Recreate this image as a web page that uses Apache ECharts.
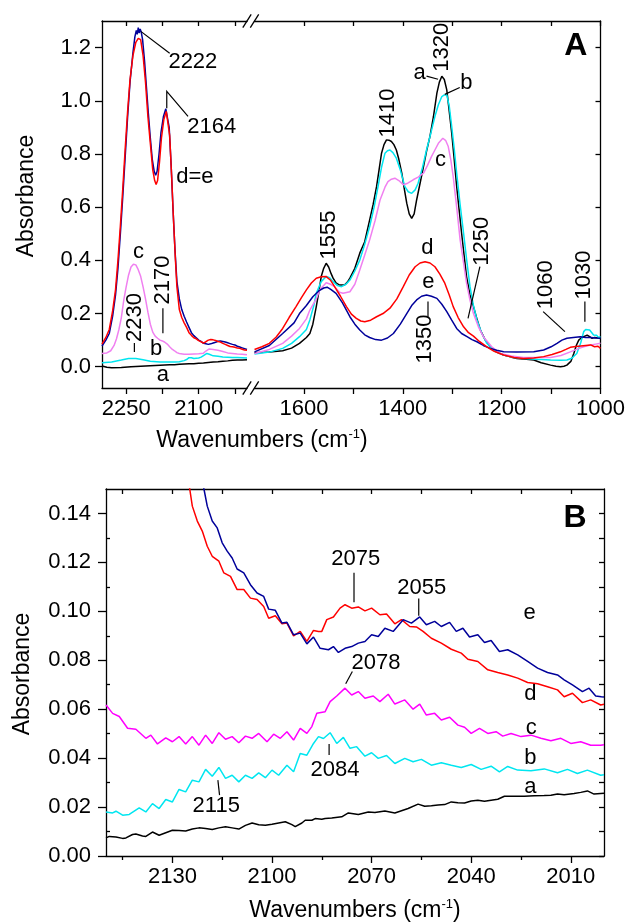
<!DOCTYPE html>
<html><head><meta charset="utf-8">
<script src="https://cdn.jsdelivr.net/npm/echarts@6/dist/echarts.min.js"></script>
<style>html,body{margin:0;padding:0;background:#fff}#c{width:629px;height:922px}</style>
</head><body><div id="c"></div>
<script>
// ---------- Panel A, high-wavenumber segment (2300-2000 cm-1) ----------
const aL = [[2300,0.003],[2290,-0.002],[2280,-0.004],[2260,-0.003],[2240,0.0],[2220,0.002],[2200,0.004],[2180,0.006],[2160,0.007],[2150,0.0075],[2140,0.009],[2130,0.0105],[2120,0.011],[2110,0.011],[2100,0.013],[2090,0.014],[2080,0.016],[2070,0.018],[2060,0.019],[2050,0.021],[2040,0.022],[2030,0.024],[2020,0.025],[2010,0.025],[2000,0.026]];
const bL = [[2300,0.015],[2280,0.018],[2260,0.025],[2245,0.031],[2230,0.031],[2215,0.026],[2200,0.021],[2180,0.018],[2160,0.018],[2150,0.018],[2140,0.019],[2130,0.023],[2125,0.027],[2120,0.034],[2115,0.034],[2110,0.031],[2100,0.033],[2095,0.036],[2090,0.042],[2087,0.047],[2083,0.05],[2078,0.047],[2074,0.044],[2070,0.041],[2060,0.039],[2050,0.037],[2040,0.036],[2030,0.035],[2020,0.035],[2010,0.034],[2000,0.033]];
const cL = [[2300,0.05],[2290,0.052],[2282,0.06],[2275,0.08],[2270,0.105],[2265,0.14],[2260,0.185],[2255,0.25],[2250,0.30],[2245,0.345],[2240,0.375],[2235,0.385],[2230,0.383],[2225,0.365],[2220,0.34],[2215,0.30],[2210,0.255],[2205,0.205],[2200,0.16],[2195,0.13],[2190,0.115],[2185,0.107],[2180,0.10],[2175,0.097],[2170,0.092],[2165,0.085],[2160,0.075],[2155,0.066],[2150,0.06],[2145,0.053],[2140,0.05],[2130,0.047],[2120,0.047],[2110,0.048],[2100,0.049],[2090,0.051],[2085,0.059],[2078,0.067],[2070,0.065],[2060,0.062],[2050,0.057],[2040,0.052],[2030,0.05],[2020,0.048],[2010,0.047],[2000,0.045]];
const dL = [[2300,0.085],[2292,0.11],[2285,0.14],[2278,0.21],[2272,0.29],[2267,0.40],[2262,0.53],[2257,0.67],[2252,0.82],[2247,0.96],[2242,1.08],[2236,1.17],[2230,1.22],[2225,1.235],[2220,1.23],[2215,1.17],[2210,1.07],[2205,0.94],[2200,0.84],[2195,0.74],[2191,0.70],[2188,0.685],[2185,0.70],[2181,0.77],[2177,0.86],[2172,0.93],[2167,0.96],[2164,0.955],[2160,0.87],[2156,0.72],[2152,0.55],[2148,0.40],[2145,0.30],[2140,0.215],[2135,0.185],[2130,0.165],[2125,0.148],[2120,0.128],[2115,0.118],[2110,0.109],[2105,0.105],[2100,0.098],[2095,0.094],[2090,0.089],[2085,0.094],[2080,0.1],[2075,0.102],[2070,0.101],[2065,0.099],[2060,0.095],[2055,0.093],[2050,0.088],[2045,0.084],[2040,0.08],[2035,0.076],[2030,0.075],[2025,0.073],[2020,0.07],[2015,0.069],[2010,0.066],[2005,0.063],[2000,0.062]];
const eL = [[2300,0.078],[2292,0.10],[2285,0.125],[2278,0.19],[2272,0.27],[2267,0.37],[2262,0.50],[2257,0.64],[2252,0.79],[2247,0.94],[2242,1.07],[2236,1.18],[2232,1.24],[2229,1.265],[2227,1.25],[2225,1.275],[2223,1.255],[2221,1.27],[2219,1.26],[2216,1.23],[2212,1.15],[2208,1.05],[2204,0.95],[2200,0.86],[2196,0.78],[2192,0.735],[2189,0.72],[2186,0.735],[2182,0.80],[2178,0.88],[2173,0.94],[2168,0.97],[2165,0.965],[2161,0.90],[2157,0.76],[2153,0.59],[2149,0.44],[2145,0.32],[2140,0.255],[2135,0.215],[2130,0.19],[2125,0.168],[2120,0.148],[2115,0.128],[2110,0.117],[2105,0.109],[2100,0.10],[2095,0.095],[2090,0.088],[2085,0.086],[2080,0.084],[2075,0.086],[2070,0.089],[2065,0.092],[2060,0.096],[2055,0.097],[2050,0.095],[2045,0.093],[2040,0.09],[2035,0.087],[2030,0.084],[2025,0.082],[2020,0.077],[2015,0.074],[2010,0.071],[2005,0.068],[2000,0.065]];

// ---------- Panel A, low-wavenumber segment (1700-1000 cm-1) ----------
const aR = [[1700,0.053],[1670,0.055],[1643,0.06],[1625,0.07],[1609,0.088],[1595,0.11],[1588,0.125],[1582,0.16],[1575,0.226],[1570,0.28],[1565,0.339],[1560,0.37],[1555,0.389],[1550,0.375],[1545,0.35],[1541,0.333],[1535,0.315],[1528,0.307],[1518,0.307],[1512,0.318],[1507,0.333],[1497,0.37],[1487,0.427],[1477,0.47],[1467,0.552],[1460,0.61],[1453,0.678],[1448,0.74],[1443,0.803],[1438,0.835],[1433,0.853],[1428,0.852],[1423,0.847],[1418,0.835],[1413,0.815],[1408,0.78],[1402,0.728],[1397,0.67],[1392,0.615],[1387,0.575],[1382,0.558],[1377,0.575],[1372,0.627],[1365,0.69],[1358,0.753],[1352,0.81],[1345,0.866],[1338,0.94],[1331,1.029],[1326,1.07],[1321,1.092],[1316,1.08],[1311,1.041],[1306,0.96],[1301,0.878],[1296,0.78],[1291,0.678],[1286,0.59],[1281,0.502],[1276,0.42],[1271,0.339],[1264,0.27],[1257,0.226],[1250,0.18],[1243,0.138],[1233,0.1],[1223,0.075],[1210,0.055],[1196,0.044],[1180,0.036],[1169,0.031],[1150,0.028],[1135,0.025],[1120,0.015],[1101,0.006],[1090,0.002],[1081,0.0],[1074,0.002],[1068,0.006],[1060,0.02],[1054,0.05],[1049,0.08],[1044,0.1],[1039,0.108],[1034,0.113],[1030,0.117],[1027,0.119],[1022,0.113],[1017,0.107],[1012,0.11],[1008,0.103],[1004,0.108],[1000,0.106]];
const bR = [[1700,0.048],[1670,0.055],[1643,0.069],[1625,0.088],[1609,0.113],[1595,0.14],[1588,0.176],[1580,0.23],[1575,0.276],[1565,0.32],[1555,0.339],[1548,0.335],[1541,0.32],[1532,0.305],[1524,0.301],[1515,0.31],[1507,0.326],[1497,0.36],[1487,0.401],[1477,0.46],[1467,0.527],[1458,0.6],[1450,0.678],[1443,0.75],[1436,0.803],[1431,0.812],[1426,0.815],[1420,0.805],[1413,0.784],[1405,0.74],[1396,0.678],[1389,0.658],[1382,0.652],[1375,0.665],[1369,0.69],[1360,0.75],[1352,0.815],[1343,0.88],[1335,0.941],[1328,0.985],[1321,1.016],[1316,1.022],[1311,1.022],[1306,0.98],[1301,0.903],[1296,0.82],[1291,0.728],[1284,0.61],[1277,0.502],[1270,0.39],[1264,0.301],[1257,0.23],[1250,0.176],[1240,0.125],[1230,0.088],[1215,0.06],[1196,0.044],[1175,0.035],[1156,0.031],[1130,0.028],[1101,0.025],[1080,0.024],[1068,0.025],[1058,0.032],[1048,0.05],[1040,0.09],[1034,0.132],[1030,0.14],[1027,0.144],[1022,0.138],[1014,0.119],[1008,0.118],[1004,0.11],[1000,0.113]];
const cR = [[1700,0.05],[1670,0.065],[1643,0.088],[1625,0.115],[1609,0.144],[1595,0.18],[1588,0.213],[1575,0.255],[1568,0.289],[1555,0.316],[1546,0.31],[1538,0.301],[1528,0.28],[1521,0.276],[1507,0.282],[1497,0.31],[1487,0.364],[1477,0.42],[1467,0.477],[1456,0.55],[1446,0.627],[1436,0.675],[1430,0.696],[1423,0.705],[1416,0.709],[1408,0.7],[1399,0.684],[1390,0.69],[1379,0.703],[1369,0.713],[1358,0.728],[1350,0.757],[1342,0.79],[1335,0.815],[1328,0.84],[1319,0.859],[1313,0.85],[1308,0.828],[1303,0.78],[1298,0.715],[1291,0.6],[1284,0.477],[1277,0.39],[1271,0.314],[1264,0.25],[1257,0.2],[1247,0.15],[1237,0.113],[1220,0.075],[1203,0.05],[1180,0.04],[1156,0.035],[1130,0.035],[1101,0.035],[1080,0.042],[1061,0.056],[1045,0.068],[1034,0.075],[1020,0.082],[1010,0.085],[1000,0.088]];
const dR = [[1700,0.065],[1685,0.075],[1670,0.088],[1656,0.112],[1643,0.144],[1630,0.185],[1616,0.226],[1605,0.26],[1595,0.289],[1585,0.315],[1575,0.333],[1565,0.338],[1555,0.339],[1546,0.325],[1538,0.301],[1526,0.265],[1514,0.226],[1504,0.198],[1494,0.182],[1485,0.172],[1477,0.169],[1465,0.175],[1453,0.188],[1440,0.2],[1426,0.22],[1412,0.255],[1399,0.301],[1387,0.345],[1375,0.376],[1365,0.39],[1355,0.395],[1345,0.39],[1335,0.376],[1325,0.348],[1315,0.314],[1306,0.27],[1298,0.226],[1288,0.185],[1277,0.15],[1267,0.128],[1257,0.115],[1245,0.095],[1230,0.075],[1215,0.058],[1196,0.044],[1175,0.035],[1156,0.031],[1135,0.033],[1115,0.038],[1098,0.046],[1081,0.056],[1070,0.065],[1061,0.073],[1050,0.076],[1040,0.078],[1030,0.08],[1020,0.082],[1012,0.075],[1005,0.077],[1000,0.069]];
const eR = [[1700,0.056],[1670,0.08],[1643,0.125],[1620,0.165],[1609,0.2],[1595,0.23],[1582,0.263],[1570,0.285],[1560,0.296],[1553,0.299],[1545,0.29],[1535,0.276],[1522,0.24],[1507,0.188],[1497,0.16],[1487,0.138],[1477,0.12],[1467,0.11],[1455,0.102],[1443,0.1],[1431,0.108],[1419,0.125],[1405,0.16],[1392,0.2],[1382,0.23],[1372,0.251],[1362,0.265],[1352,0.27],[1342,0.265],[1331,0.257],[1321,0.235],[1311,0.207],[1301,0.175],[1291,0.144],[1281,0.125],[1270,0.113],[1260,0.102],[1250,0.094],[1237,0.08],[1223,0.069],[1210,0.062],[1196,0.056],[1170,0.055],[1135,0.056],[1115,0.063],[1100,0.075],[1088,0.088],[1078,0.1],[1068,0.107],[1055,0.11],[1041,0.113],[1030,0.11],[1020,0.11],[1010,0.108],[1000,0.107]];

// ---------- Panel B (2150-2000 cm-1, expanded) ----------
const aB = [[2150,0.0074],[2149,0.008],[2147,0.0078],[2145,0.0072],[2144,0.0074],[2142,0.0088],[2141,0.009],[2139,0.0082],[2138,0.008],[2136,0.0098],[2134,0.0085],[2132,0.0095],[2130,0.0105],[2128,0.0104],[2126,0.0102],[2124,0.011],[2122,0.0115],[2120,0.0112],[2118,0.0108],[2116,0.0115],[2114,0.012],[2112,0.0115],[2110,0.011],[2108,0.0125],[2106,0.0135],[2104,0.0128],[2102,0.0126],[2100,0.013],[2098,0.0135],[2096,0.014],[2094,0.0128],[2093,0.012],[2091,0.0135],[2090,0.0146],[2088,0.0146],[2087,0.0153],[2085,0.015],[2084,0.0153],[2082,0.0155],[2079,0.016],[2077,0.0176],[2074,0.017],[2071,0.018],[2069,0.0178],[2066,0.0184],[2063,0.0176],[2061,0.0185],[2059,0.0194],[2056,0.0212],[2054,0.0203],[2052,0.0205],[2050,0.0208],[2048,0.021],[2046,0.0221],[2044,0.0218],[2042,0.0217],[2040,0.0225],[2038,0.0228],[2036,0.0224],[2034,0.0228],[2032,0.0232],[2030,0.0244],[2027,0.0244],[2024,0.0244],[2021,0.0246],[2018,0.0247],[2016,0.0248],[2014,0.0253],[2012,0.025],[2009,0.0255],[2007,0.026],[2005,0.0266],[2003,0.0253],[2001,0.0255],[2000,0.0256]];
const bB = [[2150,0.018],[2148,0.0176],[2147,0.0183],[2145,0.0167],[2143,0.017],[2140,0.0197],[2138,0.018],[2136,0.0214],[2134,0.0194],[2132,0.0231],[2130,0.0221],[2128,0.0272],[2126,0.0262],[2124,0.031],[2122,0.0303],[2120,0.0354],[2118,0.0326],[2116,0.0362],[2114,0.0317],[2112,0.033],[2110,0.0303],[2108,0.033],[2106,0.0317],[2104,0.034],[2102,0.032],[2100,0.0351],[2098,0.033],[2095.5,0.0371],[2093.5,0.0344],[2091.5,0.0419],[2089.5,0.0412],[2087.5,0.046],[2086,0.0488],[2084.5,0.048],[2082.5,0.0504],[2080.5,0.046],[2078.5,0.0485],[2076.5,0.044],[2074.5,0.0447],[2072,0.0408],[2070,0.0422],[2068,0.0399],[2065.5,0.0411],[2063,0.0378],[2060,0.0399],[2057.5,0.0385],[2055,0.0395],[2052,0.0371],[2049,0.0381],[2046,0.0371],[2043,0.0362],[2040,0.0374],[2037,0.0354],[2034,0.0367],[2031.5,0.0344],[2029,0.0366],[2026,0.0351],[2022,0.0348],[2018,0.0356],[2014,0.034],[2011,0.0354],[2008,0.0337],[2005,0.0351],[2001,0.033],[2000,0.0332]];
const cB = [[2150,0.0617],[2148,0.0583],[2146,0.057],[2143.5,0.0522],[2141,0.0518],[2138,0.0481],[2136.5,0.0494],[2134.5,0.0458],[2132,0.0483],[2130,0.0467],[2128,0.0488],[2126,0.0458],[2124,0.0488],[2122,0.0453],[2120,0.0494],[2118,0.046],[2116,0.0504],[2114,0.0477],[2112,0.0488],[2110,0.0463],[2108,0.049],[2106,0.0481],[2104,0.0501],[2101.5,0.0467],[2099.5,0.0498],[2097.5,0.0481],[2095.5,0.0508],[2093.5,0.0474],[2091.5,0.0522],[2089.5,0.0501],[2088,0.0529],[2086.5,0.0583],[2084,0.059],[2082.5,0.0631],[2080.5,0.0654],[2078,0.0686],[2076,0.0658],[2074,0.0672],[2072,0.0645],[2069.5,0.0654],[2067.5,0.0631],[2065,0.0661],[2063,0.0621],[2060,0.0638],[2057.5,0.06],[2055.5,0.0621],[2053.5,0.0576],[2051,0.0583],[2049,0.0556],[2046.5,0.0567],[2044,0.0535],[2042,0.0526],[2040,0.0501],[2037.5,0.0522],[2035,0.0501],[2032.5,0.0508],[2030.5,0.049],[2028,0.0501],[2025,0.0488],[2022,0.0494],[2019,0.0481],[2016,0.0471],[2013,0.0481],[2010,0.046],[2007,0.0467],[2004,0.0453],[2001,0.0453],[2000,0.0455]];
const dB = [[2132,0.2],[2128,0.17],[2125,0.152],[2124,0.143],[2122.5,0.1369],[2121,0.1328],[2119.5,0.1266],[2118,0.1225],[2116,0.1205],[2114.5,0.1157],[2112.5,0.1143],[2110.5,0.1089],[2108.5,0.1089],[2106.5,0.1054],[2104.5,0.1048],[2102.5,0.102],[2101,0.0972],[2099,0.0982],[2097,0.0949],[2095.5,0.0952],[2093.5,0.09],[2091.5,0.0918],[2089.5,0.0877],[2087.5,0.0922],[2086,0.0918],[2085,0.0918],[2083.5,0.0966],[2081.5,0.0977],[2079.5,0.1013],[2078,0.1027],[2076,0.1013],[2074,0.1018],[2072,0.1002],[2070,0.1013],[2067.5,0.0986],[2065.5,0.0989],[2063,0.0949],[2061,0.0966],[2058.5,0.0938],[2056.5,0.0936],[2054.5,0.0918],[2052,0.089],[2049,0.087],[2046,0.0845],[2043,0.0829],[2041,0.0804],[2038,0.0795],[2035,0.0761],[2032,0.075],[2029,0.074],[2026,0.0727],[2023,0.0709],[2020,0.0704],[2017,0.0692],[2014,0.0679],[2012,0.0651],[2009.5,0.0665],[2006.5,0.0627],[2004,0.0638],[2001,0.0617],[2000,0.062]];
const eB = [[2128,0.2],[2123,0.17],[2120.5,0.15],[2119.5,0.143],[2118,0.1369],[2116.5,0.1341],[2115,0.128],[2113.5,0.1246],[2112,0.1218],[2110.5,0.1173],[2108.5,0.1157],[2106.5,0.1109],[2104.5,0.1075],[2102.5,0.1061],[2101,0.1009],[2099,0.1004],[2097,0.0952],[2095.5,0.0955],[2093.5,0.0904],[2091.5,0.0911],[2089.5,0.0867],[2087.5,0.0895],[2085.5,0.0849],[2083,0.0843],[2081.5,0.0856],[2080,0.0832],[2078,0.0849],[2076,0.0856],[2074,0.087],[2072,0.0877],[2070,0.0904],[2068,0.0897],[2066,0.0931],[2063.5,0.0918],[2060.5,0.0966],[2058,0.0952],[2055.5,0.0977],[2053.5,0.0945],[2051,0.0959],[2049,0.0938],[2046.5,0.0955],[2044.5,0.0918],[2042.5,0.0931],[2040.5,0.0895],[2038,0.0904],[2036,0.0873],[2034,0.0881],[2031.5,0.0836],[2029,0.0843],[2026,0.0822],[2023,0.0795],[2020,0.0768],[2017,0.075],[2014,0.074],[2012,0.072],[2009.5,0.0699],[2006.5,0.0672],[2004.5,0.0686],[2002.5,0.0654],[2000.8,0.0651],[2000,0.065]];

// ---------- tick values ----------
const tickA_L = [2250,2175,2100,2025];
const labA_L = [2250,2100];
const tickA_R = [1000,1100,1200,1300,1400,1500,1600];
const labA_R = [1000,1200,1400,1600];
const yTickA = [0,0.2,0.4,0.6,0.8,1.0,1.2];
const labB = [2010,2040,2070,2100,2130];
const minorB = [2025,2055,2085,2115,2145];
const topB = [2010,2025,2040,2055,2070,2085,2100,2115,2130,2145];
const yTickB = [0,0.02,0.04,0.06,0.08,0.10,0.12,0.14];
const yMinorB = [0.01,0.03,0.05,0.07,0.09,0.11,0.13];
const yAllB = [0,0.01,0.02,0.03,0.04,0.05,0.06,0.07,0.08,0.09,0.10,0.11,0.12,0.13,0.14];

// ---------- annotations (data coordinates) ----------
const annA_L = [
  {t:'2222', x:2112, y:1.146}, {t:'2164', x:2073, y:0.902}, {t:'d=e', x:2108, y:0.714},
  {t:'c', x:2224.5, y:0.431}, {t:'2230', x:2231, y:0.185, r:1}, {t:'2170', x:2174, y:0.326, r:1},
  {t:'b', x:2188, y:0.067}, {t:'a', x:2174, y:-0.031}
];
const leadA_L = [
  [[2219,1.26],[2160,1.179]],
  [[2166,0.972],[2166,1.035],[2122,0.941]],
  [[2233,0.089],[2233,0.055]],
  [[2174,0.22],[2174,0.126]]
];
const annA_R = [
  {t:'a', x:1366, y:1.105}, {t:'1320', x:1320, y:1.201, r:1}, {t:'b', x:1271.5, y:1.067},
  {t:'1410', x:1430, y:0.954, r:1}, {t:'c', x:1323.6, y:0.777}, {t:'1555', x:1549, y:0.4955, r:1},
  {t:'d', x:1350.5, y:0.448}, {t:'e', x:1348, y:0.317}, {t:'1350', x:1355.6, y:0.104, r:1},
  {t:'1250', x:1240, y:0.472, r:1}, {t:'1060', x:1111, y:0.3085, r:1}, {t:'1030', x:1033, y:0.345, r:1},
  {t:'A', x:1050, y:1.205, bold:1}
];
const leadA_R = [
  [[1352,1.093],[1328.6,1.081]],
  [[1315,1.024],[1284.7,1.05]],
  [[1349,0.245],[1349,0.188]],
  [[1244,0.376],[1268,0.182]],
  [[1116,0.207],[1072,0.132]],
  [[1031.6,0.245],[1031.6,0.169]]
];
const annB = [
  {t:'B', x:2008.7, y:0.138, bold:1}, {t:'2075', x:2074.8, y:0.1216}, {t:'2055', x:2054.9, y:0.1094},
  {t:'e', x:2022.4, y:0.0994}, {t:'2078', x:2068.7, y:0.079}, {t:'d', x:2022.2, y:0.0663},
  {t:'c', x:2021.9, y:0.0523}, {t:'b', x:2022.2, y:0.040}, {t:'2084', x:2081, y:0.0351},
  {t:'a', x:2022.2, y:0.0282}, {t:'2115', x:2116.8, y:0.0205}
];
const leadB = [
  [[2075.3,0.1158],[2075.3,0.1037]],
  [[2055.8,0.1052],[2055.8,0.0982]],
  [[2075.8,0.0754],[2077.8,0.0704]],
  [[2082.8,0.0458],[2082.8,0.0413]],
  [[2116.3,0.031],[2115.8,0.0249]]
];

const FONT = '"Liberation Sans", Arial, Helvetica, sans-serif';
const COL = {a:'#000000', b:'#00e6f0', cA:'#f080f0', cB:'#ff00ff', d:'#ff0000', e:'#00009a'};
const AX = {color:'#000', width:1.3};

function xAxisDef(grid, min, max, pos, ticks, labels, tickLen, inside, showLine) {
  return {
    gridIndex: grid, type:'value', min:min, max:max, inverse:true, position:pos,
    axisLine:{show: showLine !== false, onZero:false, lineStyle:AX},
    axisTick:{show:true, inside:!!inside, length:tickLen, customValues:ticks, lineStyle:AX},
    axisLabel: labels ? {show:true, customValues:labels, fontSize:22, color:'#000', margin:10, fontFamily:FONT,
      formatter: v => String(Math.round(v))} : {show:false},
    splitLine:{show:false}
  };
}
function yAxisDef(grid, min, max, pos, ticks, labels, tickLen, inside, showLine, dec, margin) {
  return {
    gridIndex: grid, type:'value', min:min, max:max, position:pos,
    axisLine:{show: showLine !== false, onZero:false, lineStyle:AX},
    axisTick:{show:true, inside:!!inside, length:tickLen, customValues:ticks, lineStyle:AX},
    axisLabel: labels ? {show:true, customValues:labels, fontSize:22, color:'#000', margin:margin, fontFamily:FONT,
      formatter: v => Number(v).toFixed(dec)} : {show:false},
    splitLine:{show:false}
  };
}
function line(data, color, xi, yi, w) {
  return {type:'line', data:data, xAxisIndex:xi, yAxisIndex:yi, showSymbol:false, symbol:'none',
    clip:true, smooth:false, lineStyle:{color:color, width:w||1.5}, itemStyle:{color:color}, silent:true, z:3};
}

const chart = echarts.init(document.getElementById('c'), null, {renderer:'canvas'});
chart.setOption({
  animation:false,
  backgroundColor:'#fff',
  grid:[
    {left:102, top:21, width:145, height:367},
    {left:254.5, top:21, width:346, height:367},
    {left:106, top:489, width:498, height:367}
  ],
  xAxis:[
    xAxisDef(0, 2000, 2300, 'bottom', tickA_L, labA_L, 6, false),
    xAxisDef(0, 2000, 2300, 'top', tickA_L, null, 5, true),
    xAxisDef(1, 1000, 1700, 'bottom', tickA_R, labA_R, 6, false),
    xAxisDef(1, 1000, 1700, 'top', tickA_R, null, 5, true),
    xAxisDef(2, 2000, 2150, 'bottom', labB, labB, 7, false),
    xAxisDef(2, 2000, 2150, 'bottom', minorB, null, 4, false, false),
    xAxisDef(2, 2000, 2150, 'top', topB, null, 5, true)
  ],
  yAxis:[
    yAxisDef(0, -0.08, 1.3, 'left', yTickA, yTickA, 7, false, true, 1, 11),
    yAxisDef(1, -0.08, 1.3, 'right', yTickA, null, 5, true),
    yAxisDef(2, 0, 0.15, 'left', yTickB, yTickB, 8, false, true, 2, 15),
    yAxisDef(2, 0, 0.15, 'left', yMinorB, null, 4, true, false),
    yAxisDef(2, 0, 0.15, 'right', yAllB, null, 5, true)
  ],
  series:[
    line(aL, COL.a, 0, 0), line(bL, COL.b, 0, 0), line(cL, COL.cA, 0, 0), line(eL, COL.e, 0, 0), line(dL, COL.d, 0, 0),
    line(aR, COL.a, 2, 1), line(bR, COL.b, 2, 1), line(cR, COL.cA, 2, 1), line(eR, COL.e, 2, 1), line(dR, COL.d, 2, 1),
    line(aB, COL.a, 4, 2), line(bB, COL.b, 4, 2), line(cB, COL.cB, 4, 2), line(dB, COL.d, 4, 2), line(eB, COL.e, 4, 2)
  ]
});

// ----- overlay graphics: annotations, leaders, axis break marks, titles -----
const AXES = [{xAxisIndex:0, yAxisIndex:0}, {xAxisIndex:2, yAxisIndex:1}, {xAxisIndex:4, yAxisIndex:2}];
const P = (g, pt) => chart.convertToPixel(AXES[g], pt);
const gfx = [];
function addAnn(g, list) {
  list.forEach(a => {
    const p = P(g, [a.x, a.y]);
    gfx.push({type:'text', x:p[0], y:p[1], rotation: a.r ? Math.PI/2 : 0, z:10,
      style:{text:a.t, x:0, y:0, align:'center', verticalAlign:'middle',
        font: (a.bold ? 'bold 32px ' : '22px ') + FONT, fill:'#000'}});
  });
}
function addLead(g, list) {
  list.forEach(pts => {
    gfx.push({type:'polyline', z:10, shape:{points: pts.map(q => P(g, q))},
      style:{stroke:'#000', lineWidth:1.2, fill:null}});
  });
}
addAnn(0, annA_L); addLead(0, leadA_L);
addAnn(1, annA_R); addLead(1, leadA_R);
addAnn(2, annB); addLead(2, leadB);

// axis-break slashes
const xr = P(0, [2000, 0])[0], xl = P(1, [1700, 0])[0];
const yt = P(0, [2000, 1.3])[1], yb = P(0, [2000, -0.08])[1];
[xr, xl].forEach(cx => {
  [yt, yb].forEach(cy => {
    gfx.push({type:'line', z:10, shape:{x1:cx-4.2, y1:cy+6.6, x2:cx+4.2, y2:cy-6.6}, style:{stroke:'#000', lineWidth:1.3}});
  });
});

// axis titles
const rich = {n:{fontSize:23, fontFamily:FONT, fill:'#000', lineHeight:26}, s:{fontSize:13, fontFamily:FONT, fill:'#000', verticalAlign:'top', lineHeight:14}};
function xTitle(cx, cy) {
  gfx.push({type:'text', x:cx, y:cy, z:10, style:{text:'{n|Wavenumbers (cm}{s|-1}{n|)}', rich:rich, align:'center', verticalAlign:'middle'}});
}
function yTitle(cx, cy) {
  gfx.push({type:'text', x:cx, y:cy, rotation:Math.PI/2, z:10, style:{text:'Absorbance', align:'center', verticalAlign:'middle', font:'23px ' + FONT, fill:'#000'}});
}
xTitle(262, 441); yTitle(26.7, 196);
xTitle(355, 911); yTitle(22.5, 674);

chart.setOption({graphic: gfx});
</script></body></html>
